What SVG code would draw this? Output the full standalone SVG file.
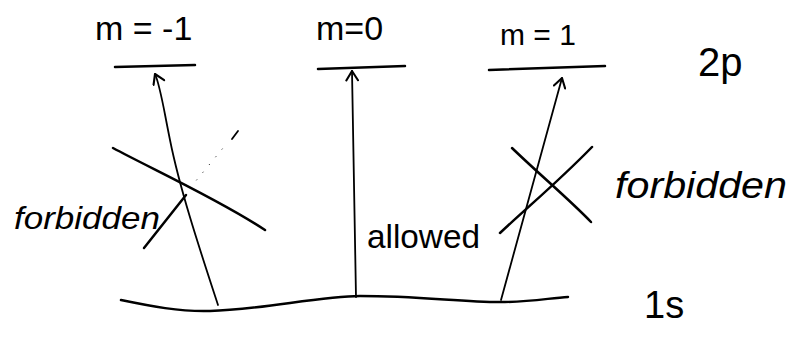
<svg xmlns="http://www.w3.org/2000/svg" width="794" height="337" viewBox="0 0 794 337">
<style>
.ln{fill:none;stroke:#000;stroke-width:2.5;stroke-linecap:round;stroke-linejoin:round}
.thin{fill:none;stroke:#000;stroke-width:1.8;stroke-linecap:round}
.t{font-family:"Liberation Sans",Arial,sans-serif;fill:#000}
</style>
<defs>
<marker id="ah" viewBox="0 0 12 12" refX="11" refY="6" markerWidth="14" markerHeight="14" markerUnits="userSpaceOnUse" orient="auto">
<path d="M3,1 L11,6 L3,11" fill="none" stroke="#000" stroke-width="1.8" stroke-linecap="round" stroke-linejoin="round"/>
</marker>
</defs>
<rect width="794" height="337" fill="#fff"/>
<g id="level-m-1">
<path class="ln" d="M115,67 L195,65"/>
<text class="t" x="95" y="40" font-size="34">m = -1</text>
</g>
<g id="level-m0">
<path class="ln" d="M318,69 L405,66"/>
<text class="t" x="316" y="40" font-size="34">m=0</text>
</g>
<g id="level-m1">
<path class="ln" d="M489,70 L605,66"/>
<text class="t" x="500" y="45" font-size="30">m = 1</text>
</g>
<g id="label-2p">
<text class="t" x="698" y="76" font-size="40">2p</text>
</g>
<g id="level-1s">
<path class="ln" d="M121,300 C150,306 180,312 210,311 C260,310 320,296 360,296 C420,296 460,302 500,302 C530,302 550,298 568,297"/>
<text class="t" x="644" y="318" font-size="38">1s</text>
</g>
<g id="connectors">
<path class="thin" d="M218,305 C200,250 180,190 170,140 C162,100 160,85 155,74" marker-end="url(#ah)"/>
<path class="thin" d="M356,297 L352,71" marker-end="url(#ah)"/>
<path class="thin" d="M501,300 L562,78" marker-end="url(#ah)"/>
</g>
<g id="cross-left">
<path class="ln" d="M113,148 C150,168 220,200 265,230"/>
<path class="ln" d="M144,248 L186,195"/>
<path d="M190,188 L228,142" stroke="#000" stroke-width="1" stroke-dasharray="1 9" fill="none"/>
<path class="thin" d="M232,139 L238,131"/>
</g>
<g id="cross-right">
<path class="ln" d="M500,233 C530,205 560,180 592,147"/>
<path class="ln" d="M512,148 C540,175 570,200 591,222"/>
</g>
<g id="labels">
<text class="t" x="14" y="229" font-size="32" font-style="italic" textLength="146" lengthAdjust="spacingAndGlyphs">forbidden</text>
<text class="t" x="367" y="248" font-size="33" textLength="113" lengthAdjust="spacingAndGlyphs">allowed</text>
<text class="t" x="615" y="198" font-size="36" font-style="italic" textLength="172" lengthAdjust="spacingAndGlyphs">forbidden</text>
</g>
</svg>
